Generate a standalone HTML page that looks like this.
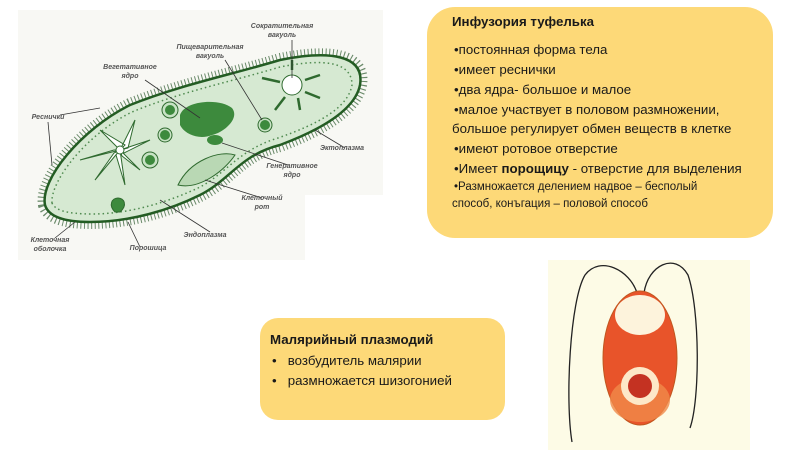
<!DOCTYPE html>
<html><head><meta charset="utf-8"><style>
body{margin:0;width:800px;height:450px;background:#fff;position:relative;overflow:hidden;font-family:"Liberation Sans",sans-serif}
.box{position:absolute;background:#fdd978;border-radius:28px;color:#1a1a1a}
#b1{left:427px;top:7px;width:346px;height:231px}
#b2{left:260px;top:318px;width:245px;height:102px;border-radius:18px}
.l{position:absolute;white-space:nowrap;font-size:13.3px}
.s{font-size:11.5px}
</style></head><body>
<svg width="800" height="450" style="position:absolute;left:0;top:0">
<rect x="18" y="10" width="365" height="250" fill="#f8f8f4"/>
<rect x="305" y="195" width="78" height="65" fill="#fff"/>
<g stroke="#5a7d5a" stroke-width="0.8">
<path d="M45,205 C40,180 80,130 130,105 C180,85 230,75 280,60 C330,50 365,55 360,85 C355,110 320,130 280,145 C240,155 230,180 200,195 C170,210 130,222 90,222 C60,222 48,215 45,205 Z" fill="none" stroke-width="14" stroke-dasharray="1 2.5" stroke="#6a8a6a"/>
</g>
<path d="M45,205 C40,180 80,130 130,105 C180,85 230,75 280,60 C330,50 365,55 360,85 C355,110 320,130 280,145 C240,155 230,180 200,195 C170,210 130,222 90,222 C60,222 48,215 45,205 Z" fill="#d6e9d2" stroke="#235c23" stroke-width="2.5"/>
<path d="M52,203 C50,182 85,135 132,112 C180,92 230,82 280,67 C325,58 352,62 352,85 C348,108 318,124 278,138 C238,150 225,175 198,188 C168,202 130,214 92,214 C66,214 55,210 52,203 Z" fill="none" stroke="#4f8a4f" stroke-width="1.5" stroke-dasharray="1.5 3"/>
<path d="M180,115 C185,100 220,98 232,108 C240,118 225,132 212,135 C200,140 185,135 180,125 Z" fill="#3d8a3d"/>
<ellipse cx="215" cy="140" rx="8" ry="5" fill="#3d8a3d"/>
<g fill="#c8e3c5" stroke="#2f6a2f"><circle cx="170" cy="110" r="8"/><circle cx="165" cy="135" r="7"/><circle cx="150" cy="160" r="8"/><circle cx="265" cy="125" r="7"/></g>
<g fill="#3d8a3d"><circle cx="170" cy="110" r="5"/><circle cx="165" cy="135" r="5"/><circle cx="150" cy="160" r="5"/><circle cx="265" cy="125" r="5"/></g>
<circle cx="292" cy="85" r="10" fill="#fff" stroke="#2f6a2f"/>
<g stroke="#2f6a2f" stroke-width="2.5" fill="none"><path d="M292,70 L292,60 M305,80 L320,75 M305,92 L320,98 M285,97 L275,110 M280,82 L262,78 M298,98 L300,110"/></g>
<g fill="#fff" stroke="#2f6a2f"><path d="M120,150 L100,130 L125,145Z M120,150 L135,120 L128,148Z M120,150 L150,140 L124,153Z M120,150 L140,170 L122,156Z M120,150 L125,185 L116,155Z M120,150 L95,180 L114,153Z M120,150 L80,160 L114,150Z"/></g>
<circle cx="120" cy="150" r="4" fill="#fff" stroke="#2f6a2f"/>
<path d="M178,185 C190,160 220,150 235,155 C225,170 200,190 178,185Z" fill="#b9d8b4" stroke="#2f6a2f"/>
<path d="M115,212 C108,205 112,198 118,198 C124,198 128,205 120,212Z" fill="#3d8a3d" stroke="#2f6a2f"/>
<g stroke="#333" stroke-width="0.8" fill="none">
<path d="M60,115 L100,108 M48,122 L52,165 M292,40 L292,78 M225,60 L262,120 M145,80 L200,118 M345,148 L315,130 M288,165 L222,143 M262,198 L205,180 M210,232 L160,200 M140,247 L128,222 M55,238 L75,222"/>
</g>
<g font-family="Liberation Sans,sans-serif" font-size="7" font-style="italic" font-weight="bold" fill="#555" text-anchor="middle">
<text x="282" y="28">Сократительная</text><text x="282" y="37">вакуоль</text>
<text x="210" y="49">Пищеварительная</text><text x="210" y="58">вакуоль</text>
<text x="130" y="69">Вегетативное</text><text x="130" y="78">ядро</text>
<text x="48" y="119">Реснички</text>
<text x="342" y="150">Эктоплазма</text>
<text x="292" y="168">Генеративное</text><text x="292" y="177">ядро</text>
<text x="262" y="200">Клеточный</text><text x="262" y="209">рот</text>
<text x="205" y="237">Эндоплазма</text>
<text x="50" y="242">Клеточная</text><text x="50" y="251">оболочка</text>
<text x="148" y="250">Порошица</text>
</g>
<rect x="548" y="260" width="202" height="190" fill="#fdfbe6"/>
<g stroke="#222" stroke-width="1.3" fill="none">
<path d="M637,293 C630,270 600,255 585,275 C570,300 565,400 572,442"/>
<path d="M644,293 C648,265 675,252 688,275 C700,310 700,400 690,428"/>
</g>
<ellipse cx="640" cy="358" rx="37" ry="67" fill="#e8542a" stroke="#c0571f"/>
<ellipse cx="640" cy="315" rx="25" ry="20" fill="#fdf3dc"/>
<ellipse cx="640" cy="400" rx="30" ry="22" fill="#f08a4a" opacity=".8"/>
<circle cx="640" cy="386" r="19" fill="#fde8c8"/>
<circle cx="640" cy="386" r="12" fill="#c43222"/>
</svg>
<div class="box" id="b1">
<div class="l" style="left:25px;top:7px;font-weight:bold">Инфузория туфелька</div>
<div class="l" style="left:27px;top:35px">•постоянная форма тела</div>
<div class="l" style="left:27px;top:55px">•имеет реснички</div>
<div class="l" style="left:27px;top:75px">•два ядра- большое и малое</div>
<div class="l" style="left:27px;top:95px">•малое участвует в половом размножении,</div>
<div class="l" style="left:25px;top:114px">большое регулирует обмен веществ в клетке</div>
<div class="l" style="left:27px;top:134px">•имеют ротовое отверстие</div>
<div class="l" style="left:27px;top:154px">•Имеет <b>порощицу</b> - отверстие для выделения</div>
<div class="l s" style="left:27px;top:174px">•Размножается делением надвое – бесполый</div>
<div class="l s" style="left:25px;top:191px">способ, конъгация – половой способ</div>
</div>
<div class="box" id="b2">
<div class="l" style="left:10px;top:14px;font-weight:bold">Малярийный плазмодий</div>
<div class="l" style="left:12px;top:35px">•&nbsp;&nbsp; возбудитель малярии</div>
<div class="l" style="left:12px;top:55px">•&nbsp;&nbsp; размножается шизогонией</div>
</div>
</body></html>
